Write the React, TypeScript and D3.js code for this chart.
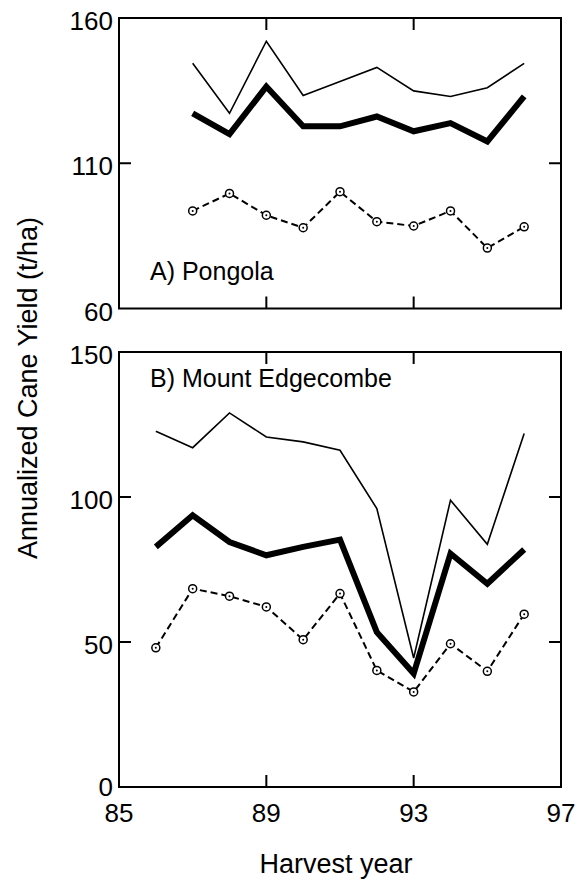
import React from "react";
import * as d3 from "d3";

const yearsA = [87, 88, 89, 90, 91, 92, 93, 94, 95, 96];
const pongolaThin = [144.4, 127.2, 152, 133.3, 138.1, 143, 134.9, 133, 136, 144.4];
const pongolaThick = [127.2, 120, 136.4, 122.7, 122.7, 126.1, 121, 123.8, 117.5, 133];
const pongolaDashed = [93.6, 99.6, 92.1, 87.8, 100.2, 89.9, 88.4, 93.6, 80.8, 88.1];

const yearsB = [86, 87, 88, 89, 90, 91, 92, 93, 94, 95, 96];
const edgeThin = [122.7, 117, 129, 120.7, 119, 116.1, 96, 44.5, 98.9, 83.7, 121.9];
const edgeThick = [82.8, 93.7, 84.5, 79.9, 82.8, 85.3, 53.4, 39.1, 80.5, 70.1, 81.9];
const edgeDashed = [48, 68.4, 65.8, 62.1, 50.8, 66.7, 40.2, 32.8, 49.4, 39.9, 59.6];

const xTicks = [85, 89, 93, 97];
const yTicksA = [60, 110, 160];
const yTicksB = [0, 50, 100, 150];

const FONT = "Liberation Sans, Arial, Helvetica, sans-serif";

const X0 = 119;
const X1 = 561;
const TICK = 12;

const x = d3.scaleLinear().domain([85, 97]).range([X0, X1]);

type PanelProps = {
  top: number;
  bottom: number;
  domain: [number, number];
  yTicks: number[];
  years: number[];
  thin: number[];
  thick: number[];
  dashed: number[];
  label: string;
  labelY: number;
  showXLabels: boolean;
};

function Panel(p: PanelProps) {
  const y = d3.scaleLinear().domain(p.domain).range([p.bottom, p.top]);
  const line = (vals: number[]) =>
    d3
      .line<number>()
      .x((_, i) => x(p.years[i]))
      .y((v) => y(v))(vals) as string;
  const innerY = p.yTicks.filter((t) => t !== p.domain[0] && t !== p.domain[1]);
  const innerX = xTicks.filter((t) => t !== 85 && t !== 97);
  return (
    <g>
      <rect
        x={X0}
        y={p.top}
        width={X1 - X0}
        height={p.bottom - p.top}
        fill="none"
        stroke="#000"
        strokeWidth={2}
      />
      {innerY.map((t) => (
        <g key={"y" + t}>
          <line x1={X0} x2={X0 + TICK} y1={y(t)} y2={y(t)} stroke="#000" strokeWidth={2} />
          <line x1={X1} x2={X1 - TICK} y1={y(t)} y2={y(t)} stroke="#000" strokeWidth={2} />
        </g>
      ))}
      {innerX.map((t) => (
        <g key={"x" + t}>
          <line x1={x(t)} x2={x(t)} y1={p.top} y2={p.top + TICK} stroke="#000" strokeWidth={2} />
          <line x1={x(t)} x2={x(t)} y1={p.bottom} y2={p.bottom - TICK} stroke="#000" strokeWidth={2} />
        </g>
      ))}
      {p.yTicks.map((t) => (
        <text
          key={"yl" + t}
          x={X0 - 6}
          y={y(t) + (t === p.domain[0] && p.showXLabels ? 9 : 12)}
          textAnchor="end"
          fontFamily={FONT}
          fontSize={26}
          fill="#000"
        >
          {t}
        </text>
      ))}
      {p.showXLabels &&
        xTicks.map((t) => (
          <text
            key={"xl" + t}
            x={x(t)}
            y={p.bottom + 35}
            textAnchor="middle"
            fontFamily={FONT}
            fontSize={26}
            fill="#000"
          >
            {t}
          </text>
        ))}
      <path d={line(p.thin)} fill="none" stroke="#000" strokeWidth={1.6} strokeLinejoin="miter" />
      <path d={line(p.thick)} fill="none" stroke="#000" strokeWidth={6} strokeLinejoin="miter" />
      <path
        d={line(p.dashed)}
        fill="none"
        stroke="#000"
        strokeWidth={2}
        strokeDasharray="7,4"
      />
      {p.dashed.map((v, i) => (
        <circle key={"c" + i} cx={x(p.years[i])} cy={y(v)} r={4} fill="#fff" stroke="#000" strokeWidth={1.5} />
      ))}
      {p.dashed.map((v, i) => (
        <circle key={"d" + i} cx={x(p.years[i])} cy={y(v)} r={1} fill="#000" />
      ))}
      <text x={150} y={p.labelY} fontFamily={FONT} fontSize={25} fill="#000">
        {p.label}
      </text>
    </g>
  );
}

export default function App() {
  return (
    <svg width={585} height={882} style={{ position: "absolute", left: 0, top: 0, background: "#fff" }}>
      <rect x={0} y={0} width={585} height={882} fill="#fff" />
      <Panel
        top={18}
        bottom={308.5}
        domain={[60, 160]}
        yTicks={yTicksA}
        years={yearsA}
        thin={pongolaThin}
        thick={pongolaThick}
        dashed={pongolaDashed}
        label="A) Pongola"
        labelY={280}
        showXLabels={false}
      />
      <Panel
        top={352}
        bottom={787}
        domain={[0, 150]}
        yTicks={yTicksB}
        years={yearsB}
        thin={edgeThin}
        thick={edgeThick}
        dashed={edgeDashed}
        label="B) Mount Edgecombe"
        labelY={387}
        showXLabels={true}
      />
      <text
        transform={`translate(37,388) rotate(-90)`}
        textAnchor="middle"
        fontFamily={FONT}
        fontSize={27}
        fill="#000"
      >
        Annualized Cane Yield (t/ha)
      </text>
      <text x={336} y={873} textAnchor="middle" fontFamily={FONT} fontSize={27} fill="#000">
        Harvest year
      </text>
    </svg>
  );
}
